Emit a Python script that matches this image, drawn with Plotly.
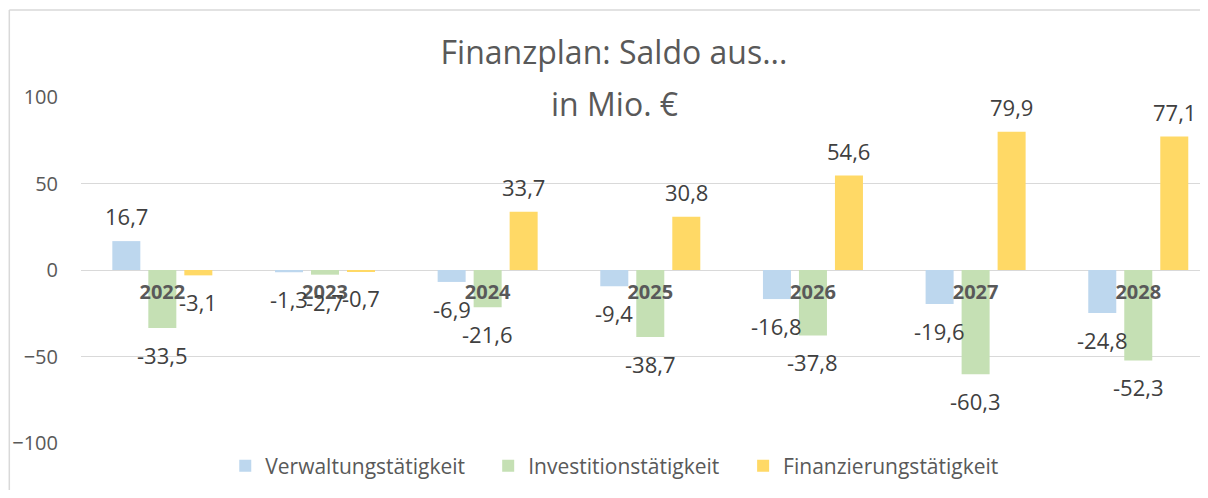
import plotly.graph_objects as go

years = ["2022", "2023", "2024", "2025", "2026", "2027", "2028"]
verwaltung = [16.7, -1.3, -6.9, -9.4, -16.8, -19.6, -24.8]
investition = [-33.5, -2.7, -21.6, -38.7, -37.8, -60.3, -52.3]
finanzierung = [-3.1, -0.7, 33.7, 30.8, 54.6, 79.9, 77.1]

series_names = ["Verwaltungstätigkeit", "Investitionstätigkeit", "Finanzierungstätigkeit"]
series_values = [verwaltung, investition, finanzierung]
series_colors = ["#BDD7EE", "#C5E0B4", "#FFD966"]
legend_ids = ["legend", "legend2", "legend3"]

# page has an 8px body margin; figure coordinates = reference - 8
OFF = 8
W, H = 1208 - OFF, 498 - 2 * OFF
PLOT_LEFT = 80.7 - OFF
PLOT_TOP = 97 - OFF
PLOT_BOTTOM = 443 - OFF
ML, MR, MT, MB = PLOT_LEFT, 0, PLOT_TOP, H - PLOT_BOTTOM
CAT_PX = 162.7
BARGAP = 0.336
BARGROUPGAP = 0.222
FONT = "Open Sans"

plot_w = W - ML - MR
plot_h = H - MT - MB


def px_x(px):
    return (px - OFF - ML) / plot_w


def px_y(py):
    return 1 - (py - OFF - MT) / plot_h


fig = go.Figure()
for name, vals, col, lg in zip(series_names, series_values, series_colors, legend_ids):
    fig.add_trace(go.Bar(x=years, y=vals, name=name, legend=lg,
                         marker=dict(color=col, line=dict(width=0))))

# data labels (outside end, like Excel)
slot = (1 - BARGAP) / len(series_values)
annotations = []
for i, vals in enumerate(series_values):
    off = (i - (len(series_values) - 1) / 2) * slot
    for j, v in enumerate(vals):
        annotations.append(dict(
            x=j + off, y=v, xref="x", yref="y",
            text=f"{v:.1f}".replace(".", ","),
            showarrow=False, yanchor="middle",
            yshift=25 if v >= 0 else -27,
            font=dict(family=FONT, size=22, color="#404040"),
        ))

# second title line
annotations.append(dict(
    text="in Mio. €", xref="paper", yref="paper",
    x=px_x(614), y=px_y(104), xanchor="center", yanchor="middle",
    showarrow=False, font=dict(family=FONT, size=32, color="#595959"),
))

# legend entries: reference text starts
legend_text_x = [263, 526, 781]
legend_y = 466
legends = {}
for lg, tx in zip(legend_ids, legend_text_x):
    legends[lg] = dict(
        orientation="h", x=px_x(tx - 38), xanchor="left", xref="paper",
        y=px_y(legend_y), yanchor="middle", yref="paper",
        font=dict(family=FONT, size=21, color="#595959"),
        itemwidth=30, bgcolor="rgba(0,0,0,0)", borderwidth=0,
    )

fig.update_layout(
    width=W, height=H,
    margin=dict(l=ML, r=MR, t=MT, b=MB, pad=0, autoexpand=False),
    paper_bgcolor="white", plot_bgcolor="white",
    barmode="group", bargap=BARGAP, bargroupgap=BARGROUPGAP,
    title=dict(
        text="Finanzplan: Saldo aus...",
        x=(614 - OFF) / W, xanchor="center", xref="container",
        y=1 - (53 - OFF) / H, yanchor="middle", yref="container",
        font=dict(family=FONT, size=32, color="#595959"),
    ),
    font=dict(family=FONT, color="#595959"),
    xaxis=dict(
        type="category", range=[-0.5, -0.5 + plot_w / CAT_PX],
        anchor="free", position=0.5,
        showline=False, showgrid=False, zeroline=False,
        ticks="", ticklabelstandoff=8,
        tickfont=dict(family=FONT, size=20, color="#595959", weight="bold"),
    ),
    yaxis=dict(
        range=[-100, 100], dtick=50, tick0=0,
        showgrid=True, gridcolor="#D9D9D9", gridwidth=1.3,
        zeroline=True, zerolinecolor="#D9D9D9", zerolinewidth=1.3,
        showline=False, ticks="", ticklabelstandoff=22,
        tickfont=dict(family=FONT, size=20, color="#595959"),
    ),
    annotations=annotations,
    shapes=[
        dict(type="line", xref="paper", yref="paper",
             x0=px_x(9), x1=px_x(9), y0=px_y(10), y1=px_y(520),
             line=dict(color="#D9D9D9", width=1.5)),
        dict(type="line", xref="paper", yref="paper",
             x0=px_x(9), x1=px_x(1230), y0=px_y(10), y1=px_y(10),
             line=dict(color="#D9D9D9", width=1.5)),
    ],
    showlegend=True,
    **legends,
)

fig.write_html("out.html")
